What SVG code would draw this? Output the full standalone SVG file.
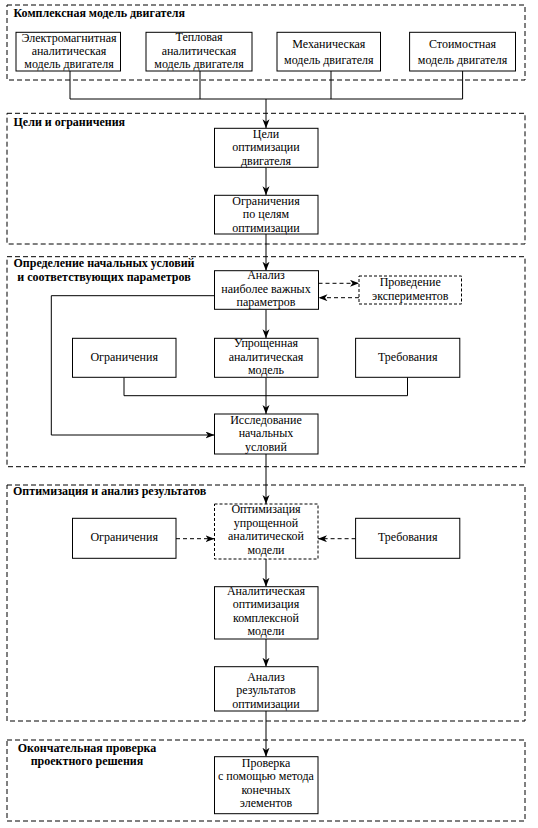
<svg xmlns="http://www.w3.org/2000/svg" width="538" height="828" viewBox="0 0 538 828">
<style>
text{font-family:'Liberation Serif','Times New Roman',serif;font-size:12px;fill:#000;text-anchor:middle}
.t{font-weight:bold;text-anchor:start}
.tc{font-weight:bold}
.sec{fill:none;stroke:#000;stroke-width:1;stroke-dasharray:5,3}
.box{fill:#fff;stroke:#000;stroke-width:1}
.dbox{fill:#fff;stroke:#000;stroke-width:1;stroke-dasharray:3,2}
.c{fill:none;stroke:#000;stroke-width:1}
.ca{fill:none;stroke:#000;stroke-width:1;marker-end:url(#ah)}
.da{fill:none;stroke:#000;stroke-width:1;stroke-dasharray:4,3;marker-end:url(#ah)}
</style>
<defs>
<marker id="ah" markerUnits="userSpaceOnUse" markerWidth="10" markerHeight="8" refX="9" refY="3.5" orient="auto">
<path d="M0,0 L9,3.5 L0,7 L2.5,3.5 z" fill="#000"/>
</marker>
</defs>
<rect width="538" height="828" fill="#fff"/>

<g id="sections">
<rect class="sec" x="7" y="5" width="518" height="75"/>
<rect class="sec" x="7" y="113.3" width="518" height="130.7"/>
<rect class="sec" x="7" y="256.7" width="518" height="210"/>
<rect class="sec" x="7" y="485" width="518" height="236"/>
<rect class="sec" x="7" y="740" width="518" height="81"/>
<text class="t" x="13.5" y="17">Комплексная модель двигателя</text>
<text class="t" x="13.5" y="126">Цели и ограничения</text>
<text class="tc" x="104" y="267.3">Определение начальных условий</text>
<text class="tc" x="104" y="280.9">и соответствующих параметров</text>
<text class="t" x="13" y="495">Оптимизация и анализ результатов</text>
<text class="tc" x="87" y="751.5">Окончательная проверка</text>
<text class="tc" x="87" y="765">проектного решения</text>
</g>

<g id="connectors">
<polyline class="c" points="70,71 70,99 462.6,99 462.6,71"/>
<line class="c" x1="200" y1="71" x2="200" y2="99"/>
<line class="c" x1="331" y1="71" x2="331" y2="99"/>
<line class="ca" x1="266" y1="99" x2="266" y2="128.3"/>
<line class="ca" x1="266" y1="167.3" x2="266" y2="195.3"/>
<line class="ca" x1="266" y1="234" x2="266" y2="270.7"/>
<line class="da" x1="318.5" y1="283.3" x2="359" y2="283.3"/>
<line class="da" x1="359" y1="297.7" x2="318.5" y2="297.7"/>
<line class="ca" x1="266" y1="309.3" x2="266" y2="338.3"/>
<polyline class="c" points="124,377.3 124,395.7 407.5,395.7 407.5,377.3"/>
<line class="ca" x1="266" y1="377.3" x2="266" y2="414"/>
<polyline class="ca" points="214.5,295.7 51.3,295.7 51.3,435 214.5,435"/>
<line class="ca" x1="266" y1="454" x2="266" y2="504"/>
<line class="da" x1="176" y1="538.7" x2="214.5" y2="538.7"/>
<line class="da" x1="355.6" y1="538.7" x2="318" y2="538.7"/>
<line class="ca" x1="266" y1="559" x2="266" y2="586.7"/>
<line class="ca" x1="266" y1="639" x2="266" y2="666.7"/>
<line class="ca" x1="266" y1="711" x2="266" y2="756.7"/>
</g>

<g id="n-em"><rect class="box" x="16" y="32.3" width="104.5" height="38.7"/>
<text x="69" y="41.6">Электромагнитная</text><text x="69" y="55">аналитическая</text><text x="69" y="68.4">модель двигателя</text></g>
<g id="n-th"><rect class="box" x="146" y="32.3" width="106" height="38.7"/>
<text x="199" y="41.3">Тепловая</text><text x="199" y="54.7">аналитическая</text><text x="199" y="68.1">модель двигателя</text></g>
<g id="n-mech"><rect class="box" x="277" y="32.3" width="103.5" height="38.7"/>
<text x="328.8" y="48.3">Механическая</text><text x="328.8" y="64">модель двигателя</text></g>
<g id="n-cost"><rect class="box" x="409.6" y="32.3" width="105.9" height="38.7"/>
<text x="462.5" y="48.3">Стоимостная</text><text x="462.5" y="64">модель двигателя</text></g>

<g id="n-goals"><rect class="box" x="214.5" y="128.3" width="103.5" height="39"/>
<text x="266" y="137.8">Цели</text><text x="266" y="151.2">оптимизации</text><text x="266" y="164.6">двигателя</text></g>
<g id="n-goalcons"><rect class="box" x="214.5" y="195.3" width="103.5" height="38.7"/>
<text x="266" y="204.8">Ограничения</text><text x="266" y="218.2">по целям</text><text x="266" y="231.6">оптимизации</text></g>

<g id="n-analysis"><rect class="box" x="214.5" y="270.7" width="104" height="38.6"/>
<text x="266" y="279.3">Анализ</text><text x="266" y="292.7">наиболее важных</text><text x="266" y="306.1">параметров</text></g>
<g id="n-exp"><rect class="dbox" x="359" y="276" width="102.5" height="28"/>
<text x="410.2" y="286">Проведение</text><text x="410.2" y="300">экспериментов</text></g>
<g id="n-cons1"><rect class="box" x="72.5" y="338.3" width="103.5" height="39"/>
<text x="124.2" y="361">Ограничения</text></g>
<g id="n-simple"><rect class="box" x="214.5" y="338.3" width="103.5" height="39"/>
<text x="266" y="347.3">Упрощенная</text><text x="266" y="360.7">аналитическая</text><text x="266" y="374.1">модель</text></g>
<g id="n-req1"><rect class="box" x="355.6" y="338.3" width="104.2" height="39"/>
<text x="407.7" y="361">Требования</text></g>
<g id="n-init"><rect class="box" x="214.5" y="414" width="103.5" height="40"/>
<text x="266" y="424">Исследование</text><text x="266" y="437.4">начальных</text><text x="266" y="450.8">условий</text></g>

<g id="n-optsimple"><rect class="dbox" x="214.5" y="504" width="103.5" height="55"/>
<text x="266" y="513.3">Оптимизация</text><text x="266" y="526.7">упрощенной</text><text x="266" y="540.1">аналитической</text><text x="266" y="553.5">модели</text></g>
<g id="n-cons2"><rect class="box" x="72.5" y="518.3" width="103.5" height="40"/>
<text x="124.2" y="541">Ограничения</text></g>
<g id="n-req2"><rect class="box" x="355.6" y="518.3" width="104.2" height="40"/>
<text x="407.7" y="541">Требования</text></g>
<g id="n-optcomplex"><rect class="box" x="214.5" y="586.7" width="103.5" height="52.3"/>
<text x="266" y="595">Аналитическая</text><text x="266" y="608.4">оптимизация</text><text x="266" y="621.8">комплексной</text><text x="266" y="635.2">модели</text></g>
<g id="n-results"><rect class="box" x="214.5" y="666.7" width="103.5" height="44.3"/>
<text x="266" y="681">Анализ</text><text x="266" y="694.4">результатов</text><text x="266" y="707.8">оптимизации</text></g>

<g id="n-fem"><rect class="box" x="214.5" y="756.7" width="103.5" height="57"/>
<text x="266" y="766.7">Проверка</text><text x="266" y="780.1">с помощью метода</text><text x="266" y="793.5">конечных</text><text x="266" y="806.9">элементов</text></g>
</svg>
